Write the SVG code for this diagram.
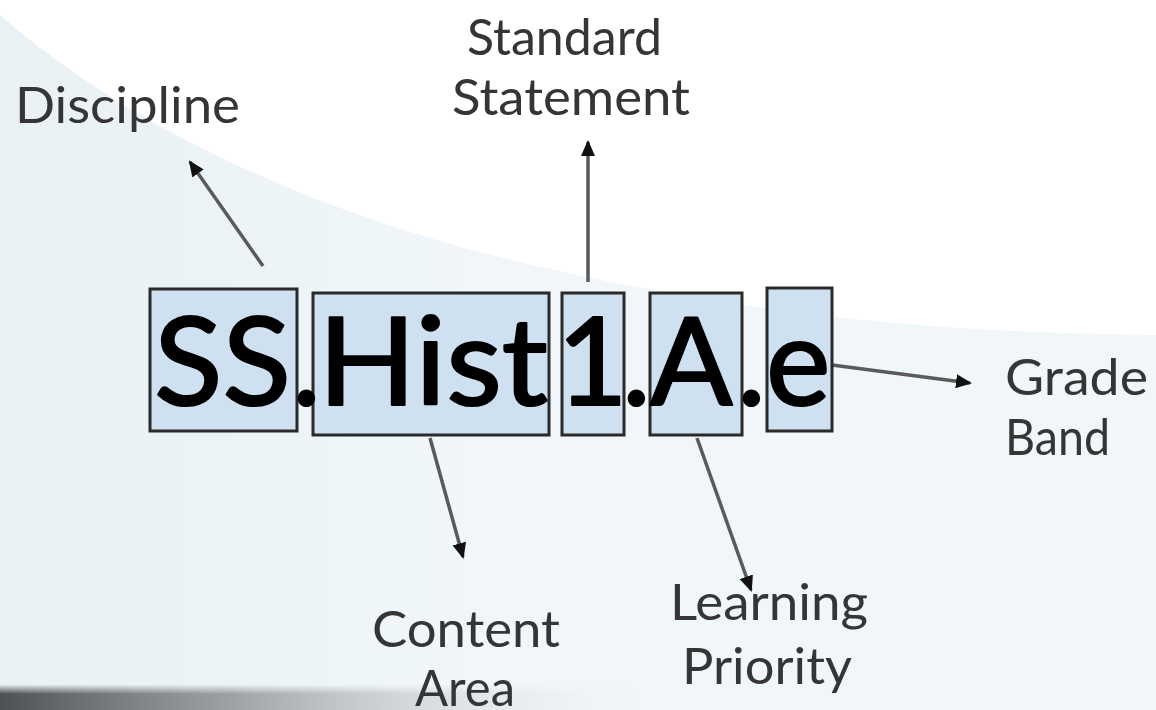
<svg xmlns="http://www.w3.org/2000/svg" width="1156" height="710" viewBox="0 0 1156 710">
  <defs>
    <style>
      .box { fill: #cfe0f1; stroke: #2a2a2a; stroke-width: 3; }
      .big { font-family: Lato, "Open Sans", sans-serif; font-size: 122px; fill: #000; stroke: #000; stroke-width: 2.2; stroke-linejoin: round; }
      .lbl { font-family: Lato, "Open Sans", sans-serif; font-size: 50px; fill: #353535; }
      .conn { stroke: #5a5a5a; stroke-width: 3.5; fill: none; marker-end: url(#arr); }
    </style>
    <marker id="arr" markerUnits="userSpaceOnUse" markerWidth="16" markerHeight="14" refX="14" refY="7" orient="auto">
      <path d="M0,0 L16,7 L0,14 Z" fill="#111"/>
    </marker>
    <linearGradient id="bgTL" x1="0" y1="0" x2="1" y2="0">
      <stop offset="0" stop-color="#e9f1f5"/>
      <stop offset="0.4" stop-color="#f0f6f9"/>
      <stop offset="1" stop-color="#f1f6f9"/>
    </linearGradient>
    <linearGradient id="strip" x1="0" y1="0" x2="1" y2="0">
      <stop offset="0" stop-color="#4e5154" stop-opacity="1"/>
      <stop offset="0.2" stop-color="#8a8d90" stop-opacity="0.8"/>
      <stop offset="0.55" stop-color="#e2e7ea" stop-opacity="0"/>
    </linearGradient>
    <linearGradient id="stripV" x1="0" y1="0" x2="0" y2="1">
      <stop offset="0" stop-color="#f0f6f9" stop-opacity="1"/>
      <stop offset="1" stop-color="#f0f6f9" stop-opacity="0"/>
    </linearGradient>
  </defs>

  <rect x="0" y="0" width="1156" height="710" fill="url(#bgTL)"/>
  <path d="M0,15 C120,120 300,210 520,262 C700,305 900,333 1156,335 L1156,0 L0,0 Z" fill="#ffffff"/>
  <rect x="0" y="684" width="1156" height="26" fill="url(#strip)"/>
  <rect x="0" y="684" width="1156" height="10" fill="url(#stripV)"/>

  <g id="connectors">
    <line class="conn" x1="263" y1="266" x2="190" y2="162"/>
    <line class="conn" x1="588" y1="282" x2="588" y2="142"/>
    <line class="conn" x1="832" y1="365" x2="970" y2="383"/>
    <line class="conn" x1="430" y1="438" x2="463" y2="557"/>
    <line class="conn" x1="697" y1="438" x2="751" y2="590"/>
  </g>

  <g id="node-ss">
    <rect class="box" x="150" y="289" width="147" height="142"/>
  </g>
  <g id="node-hist">
    <rect class="box" x="313" y="293" width="236" height="142"/>
  </g>
  <g id="node-1">
    <rect class="box" x="562" y="293" width="62" height="142"/>
  </g>
  <g id="node-a">
    <rect class="box" x="650" y="293" width="92" height="142"/>
  </g>
  <g id="node-e">
    <rect class="box" x="767" y="288" width="65" height="143"/>
  </g>

  <g id="code">
    <text class="big" y="405"><tspan x="154" textLength="137" lengthAdjust="spacingAndGlyphs">SS</tspan><tspan x="292">.</tspan><tspan x="318" textLength="230" lengthAdjust="spacingAndGlyphs">Hist</tspan><tspan x="557">1</tspan><tspan x="622">.</tspan><tspan x="650">A</tspan><tspan x="737">.</tspan><tspan x="766">e</tspan></text>
  </g>

  <g id="label-discipline">
    <text class="lbl" x="15" y="123" textLength="225" lengthAdjust="spacingAndGlyphs">Discipline</text>
  </g>
  <g id="label-standard">
    <text class="lbl" x="467" y="55" textLength="195" lengthAdjust="spacingAndGlyphs">Standard</text>
    <text class="lbl" x="452" y="115" textLength="238" lengthAdjust="spacingAndGlyphs">Statement</text>
  </g>
  <g id="label-grade">
    <text class="lbl" x="1005" y="395" textLength="143" lengthAdjust="spacingAndGlyphs">Grade</text>
    <text class="lbl" x="1005" y="455" textLength="105" lengthAdjust="spacingAndGlyphs">Band</text>
  </g>
  <g id="label-content">
    <text class="lbl" x="372" y="647" textLength="188" lengthAdjust="spacingAndGlyphs">Content</text>
    <text class="lbl" x="415" y="706" textLength="100" lengthAdjust="spacingAndGlyphs">Area</text>
  </g>
  <g id="label-learning">
    <text class="lbl" x="670" y="620" textLength="198" lengthAdjust="spacingAndGlyphs">Learning</text>
    <text class="lbl" x="682" y="684" textLength="170" lengthAdjust="spacingAndGlyphs">Priority</text>
  </g>
</svg>
